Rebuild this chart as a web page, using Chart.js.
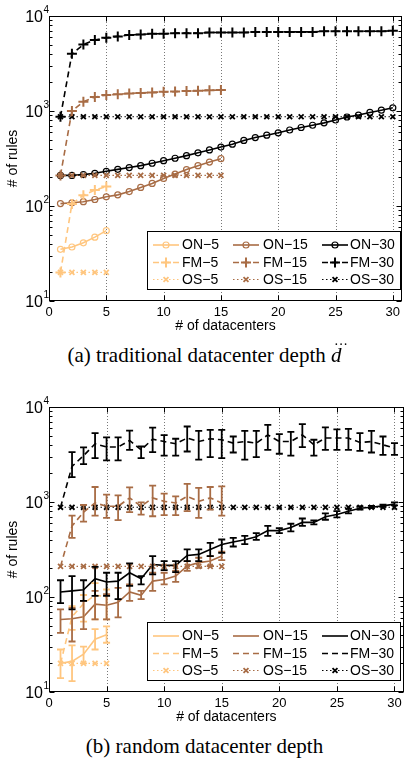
<!DOCTYPE html>
<html>
<head>
<meta charset="utf-8">
<script src="https://cdn.jsdelivr.net/npm/chart.js@4.4.0/dist/chart.umd.min.js"></script>
<style>
body { margin: 0; background: #fff; width: 409px; height: 760px; overflow: hidden; position: relative; }
canvas { position: absolute; left: 0; }
.cap { position: absolute; left: 0; width: 409px; text-align: center; font-family: "Liberation Serif", "Times New Roman", serif; font-size: 21px; line-height: 24px; color: #000; white-space: nowrap; }
.dd { position: relative; display: inline-block; font-style: italic; }
.dots { position: absolute; left: 3px; top: -5px; font-style: normal; font-size: 14px; line-height: 14px; }
</style>
</head>
<body>
<canvas id="chartA" width="409" height="340" style="top:0"></canvas>
<div class="cap" style="top:343px">(a) traditional datacenter depth <span class="dd">d<span class="dots">···</span></span></div>
<canvas id="chartB" width="409" height="340" style="top:391px"></canvas>
<div class="cap" style="top:734px">(b) random datacenter depth</div>

<script>
// x positions (# of datacenters)
const xs5 = [1, 2, 3, 4, 5];
const xs15 = [1, 2, 3, 4, 5, 6, 7, 8, 9, 10, 11, 12, 13, 14, 15];
const xs30 = [1, 2, 3, 4, 5, 6, 7, 8, 9, 10, 11, 12, 13, 14, 15, 16, 17, 18, 19, 20, 21, 22, 23, 24, 25, 26, 27, 28, 29, 30];

const xTicks = [0, 5, 10, 15, 20, 25, 30];
const yTicks = [10, 100, 1000, 10000];
const yTickExp = ['1', '2', '3', '4'];

// (a) traditional datacenter depth
const aON5 = [35, 37, 41, 47, 55];
const aFM5 = [20, 105, 130, 147, 160];
const aOS5 = [20, 20, 20, 20, 20];
const aON15 = [106, 108, 111, 117, 125, 131, 142, 157, 173, 195, 217, 242, 266, 290, 315];
const aFM15 = [210, 1000, 1250, 1400, 1470, 1500, 1530, 1550, 1570, 1590, 1600, 1620, 1630, 1650, 1660];
const aOS15 = [210, 210, 210, 210, 210, 210, 210, 210, 210, 210, 210, 210, 210, 210, 210];
const aON30 = [210, 210, 214, 221, 232, 243, 254, 266, 282, 300, 318, 339, 363, 389, 417,
               447, 490, 525, 556, 589, 631, 670, 708, 750, 804, 865, 906, 966, 1019, 1080];
const aFM30 = [870, 4000, 5000, 5600, 5900, 6100, 6300, 6400, 6500, 6500, 6600, 6600, 6600, 6700, 6700,
               6700, 6700, 6800, 6800, 6800, 6800, 6800, 6800, 6900, 6900, 6900, 6900, 6900, 6900, 7000];
const aOS30 = [870, 870, 870, 870, 870, 870, 870, 870, 870, 870, 870, 870, 870, 870, 870,
               870, 870, 870, 870, 870, 870, 870, 870, 870, 870, 870, 870, 870, 870, 870];

// (b) random datacenter depth (mean, lower and upper error bar)
const bON5 = [20, 21, 25, 36, 40];
const bON5Lo = [14, 13, 20, 28, 33];
const bON5Hi = [28, 31, 30, 46, 49];
const bFM5 = [20, 62, 85, 105, 100];
const bFM5Lo = [20, 45, 55, 58, 58];
const bFM5Hi = [20, 80, 105, 140, 120];
const bOS5 = [20, 20, 20, 20, 20];
const bON15 = [58, 59, 62, 84, 82, 88, 113, 104, 147, 153, 166, 212, 230, 239, 270];
const bON15Lo = [42, 34, 46, 58, 58, 61, 91, 95, 116, 136, 144, 188, 203, 212, 245];
const bON15Hi = [74, 77, 91, 116, 107, 125, 136, 116, 180, 180, 188, 239, 259, 269, 300];
const bFM15 = [210, 560, 780, 978, 902, 902, 1104, 902, 1104, 1016, 978, 1148, 1016, 1104, 978];
const bFM15Lo = [210, 420, 620, 720, 681, 643, 781, 738, 708, 726, 726, 800, 681, 832, 720];
const bFM15Hi = [210, 720, 930, 1439, 1196, 1177, 1426, 993, 1486, 1225, 1148, 1549, 1405, 1439, 1462];
const bOS15 = [210, 210, 210, 210, 210, 210, 210, 210, 210, 210, 210, 210, 210, 210, 210];
const bON30 = [113, 116, 119, 156, 144, 147, 180, 156, 220, 215, 215, 274, 281, 317, 357,
               380, 400, 430, 500, 500, 540, 610, 610, 700, 740, 800, 860, 880, 910, 950];
const bON30Lo = [86, 74, 91, 103, 103, 95, 131, 136, 173, 192, 183, 239, 239, 269, 292,
                 340, 360, 400, 440, 470, 490, 560, 580, 650, 690, 760, 830, 860, 890, 920];
const bON30Hi = [150, 166, 150, 208, 180, 180, 226, 166, 269, 239, 239, 317, 317, 372, 403,
                 420, 440, 470, 560, 530, 590, 670, 640, 760, 800, 850, 900, 910, 940, 990];
const bFM30 = [880, 2370, 3070, 4100, 3790, 3790, 4440, 3540, 4590, 4330, 4100, 4710, 4330, 4630, 4520,
               4170, 4330, 4170, 5090, 4330, 4330, 5090, 4000, 4710, 4710, 4710, 4230, 4330, 4000, 3690];
const bFM30Lo = [880, 1830, 2510, 2900, 2740, 2740, 3540, 2900, 3350, 3070, 3070, 3400, 2790, 2970, 2900,
                 3320, 2790, 2970, 3540, 3220, 3070, 3790, 3070, 3540, 3540, 3540, 3460, 3320, 3140, 3140];
const bFM30Hi = [880, 3350, 3750, 5310, 4780, 4780, 5650, 3840, 6080, 5060, 4630, 6230, 5610, 5750, 5750,
                 4890, 5610, 5610, 6490, 5180, 5480, 6600, 4520, 6100, 5800, 5890, 5310, 5610, 4890, 4170];
const bOS30 = [880, 880, 880, 880, 880, 880, 880, 880, 880, 880, 880, 880, 880, 880, 880,
               880, 880, 880, 880, 880, 880, 880, 880, 880, 880, 880, 880, 880, 880, 880];

const LIGHT = '#ffc67f';
const BROWN = '#a86c45';
const BLACK = '#000000';

Chart.defaults.font.family = '"Liberation Sans", Arial, sans-serif';
Chart.defaults.color = '#000';

// one line series; kind: ON solid, FM dashed, OS dotted
function series(label, xs, ys, color, kind, markers, lo, hi) {
    let ds = {
        label: label,
        data: xs.map((x, i) => ({ x: x, y: ys[i] })),
        borderColor: color,
        backgroundColor: color,
        pointBorderColor: color,
        pointBackgroundColor: 'rgba(0,0,0,0)',
        tension: 0,
        fill: false,
        pointHoverRadius: 0
    };
    if (kind == 'ON') {
        ds.borderDash = [];
        ds.borderWidth = 1.6;
        ds.pointStyle = 'circle';
        ds.pointRadius = markers ? 3 : 0;
        ds.pointBorderWidth = 1.2;
    } else if (kind == 'FM') {
        ds.borderDash = [6, 4];
        ds.borderWidth = 1.6;
        ds.pointStyle = 'cross';
        ds.pointRadius = markers ? 5 : 0;
        ds.pointBorderWidth = 2;
    } else {
        ds.borderDash = [1.5, 2.5];
        ds.borderWidth = 1.2;
        ds.pointStyle = 'crossRot';
        ds.pointRadius = 3.5;
        ds.pointBorderWidth = 1.8;
    }
    if (lo) {
        ds.errLo = lo;
        ds.errHi = hi;
    }
    return ds;
}

// frame, dotted grid, inward ticks, 10^n labels
const axesBox = {
    id: 'axesBox',
    beforeDatasetsDraw(chart) {
        const { ctx, chartArea: a, scales: { x } } = chart;
        ctx.save();
        ctx.strokeStyle = '#555';
        ctx.lineWidth = 0.8;
        ctx.setLineDash([1, 2]);
        xTicks.forEach(v => {
            if (v <= 0) return;
            const px = Math.round(x.getPixelForValue(v)) + 0.5;
            ctx.beginPath();
            ctx.moveTo(px, a.top);
            ctx.lineTo(px, a.bottom);
            ctx.stroke();
        });
        ctx.restore();
    },
    afterDatasetsDraw(chart) {
        const { ctx, chartArea: a, scales: { x, y } } = chart;
        ctx.save();
        ctx.strokeStyle = '#000';
        ctx.lineWidth = 1;
        ctx.setLineDash([]);
        const L = Math.round(a.left) + 0.5, R = Math.round(a.right) - 0.5;
        const T = Math.round(a.top) + 0.5, B = Math.round(a.bottom) - 0.5;
        ctx.strokeRect(L, T, R - L, B - T);
        ctx.beginPath();
        xTicks.forEach(v => {
            const px = Math.round(x.getPixelForValue(v)) + 0.5;
            ctx.moveTo(px, B); ctx.lineTo(px, B - 5);
            ctx.moveTo(px, T); ctx.lineTo(px, T + 5);
        });
        yTicks.forEach(v => {
            const py = Math.round(y.getPixelForValue(v)) + 0.5;
            ctx.moveTo(L, py); ctx.lineTo(L + 5, py);
            ctx.moveTo(R, py); ctx.lineTo(R - 5, py);
        });
        for (let d = 10; d < 10000; d *= 10) {
            for (let m = 2; m <= 9; m++) {
                const py = Math.round(y.getPixelForValue(d * m)) + 0.5;
                ctx.moveTo(L, py); ctx.lineTo(L + 3, py);
                ctx.moveTo(R, py); ctx.lineTo(R - 3, py);
            }
        }
        ctx.stroke();

        ctx.fillStyle = '#000';
        ctx.textBaseline = 'middle';
        yTicks.forEach((v, i) => {
            const py = y.getPixelForValue(v);
            ctx.font = '16px "Liberation Sans", Arial, sans-serif';
            ctx.textAlign = 'right';
            ctx.fillText('10', 43, py + 2);
            ctx.font = '10px "Liberation Sans", Arial, sans-serif';
            ctx.textAlign = 'left';
            ctx.fillText(yTickExp[i], 43.5, py - 6);
        });
        ctx.restore();
    }
};

const errorBars = {
    id: 'errorBars',
    afterDatasetsDraw(chart) {
        const { ctx, scales: { x, y } } = chart;
        chart.data.datasets.forEach(ds => {
            if (!ds.errLo) return;
            ctx.save();
            ctx.strokeStyle = ds.borderColor;
            ctx.lineWidth = 1.8;
            ctx.setLineDash([]);
            ds.data.forEach((p, i) => {
                const lo = ds.errLo[i], hi = ds.errHi[i];
                if (lo == hi) return;
                const px = x.getPixelForValue(p.x);
                const y1 = y.getPixelForValue(lo), y2 = y.getPixelForValue(hi);
                ctx.beginPath();
                ctx.moveTo(px, y1); ctx.lineTo(px, y2);
                ctx.moveTo(px - 3.5, y1); ctx.lineTo(px + 3.5, y1);
                ctx.moveTo(px - 3.5, y2); ctx.lineTo(px + 3.5, y2);
                ctx.stroke();
            });
            ctx.restore();
        });
    }
};

// matlab-like 3x3 legend box in the lower right
const boxLegend = {
    id: 'boxLegend',
    afterDraw(chart) {
        const ctx = chart.ctx;
        const sampleX = [153, 233, 322];
        const textX = [182, 263, 350];
        const rowY = [245, 262.5, 279.5];
        ctx.save();
        ctx.fillStyle = '#fff';
        ctx.fillRect(147.5, 231.5, 253, 58);
        ctx.strokeStyle = '#000';
        ctx.lineWidth = 1;
        ctx.setLineDash([]);
        ctx.strokeRect(147.5, 231.5, 253, 58);

        chart.data.datasets.forEach((ds, i) => {
            const col = Math.floor(i / 3), row = i % 3;
            const x0 = sampleX[col], x1 = x0 + 26, yy = rowY[row];
            ctx.strokeStyle = ds.borderColor;
            ctx.lineWidth = ds.borderWidth;
            ctx.setLineDash(ds.borderDash);
            ctx.beginPath();
            ctx.moveTo(x0, yy);
            ctx.lineTo(x1, yy);
            ctx.stroke();
            if (ds.pointRadius > 0) {
                ctx.setLineDash([]);
                ctx.lineWidth = ds.pointBorderWidth;
                ctx.fillStyle = 'rgba(0,0,0,0)';
                Chart.helpers.drawPoint(ctx, {
                    pointStyle: ds.pointStyle,
                    radius: ds.pointRadius,
                    rotation: 0,
                    borderWidth: ds.pointBorderWidth
                }, (x0 + x1) / 2, yy);
            }
            ctx.fillStyle = '#000';
            ctx.font = '14px "Liberation Sans", Arial, sans-serif';
            ctx.textAlign = 'left';
            ctx.textBaseline = 'middle';
            ctx.fillText(ds.label, textX[col], yy + 0.5);
        });
        ctx.restore();
    }
};

function buildChart(id, datasets) {
    return new Chart(document.getElementById(id), {
        type: 'line',
        data: { datasets: datasets },
        options: {
            responsive: false,
            animation: false,
            devicePixelRatio: 1,
            layout: { padding: { top: 16, right: 1, left: 0, bottom: 0 } },
            plugins: {
                legend: { display: false },
                tooltip: { enabled: false }
            },
            scales: {
                x: {
                    type: 'linear',
                    min: 0,
                    max: 30.8,
                    afterBuildTicks: s => { s.ticks = xTicks.map(v => ({ value: v })); },
                    afterFit: s => { s.height = 39; },
                    grid: { display: false, drawTicks: false },
                    border: { display: false },
                    ticks: { color: '#000', font: { size: 13, lineHeight: 1 }, padding: 5, maxRotation: 0, autoSkip: false },
                    title: { display: true, text: '# of datacenters', color: '#000', font: { size: 14 }, padding: { top: 0, bottom: 5 } }
                },
                y: {
                    type: 'logarithmic',
                    min: 10,
                    max: 10000,
                    afterFit: s => { s.width = 49; },
                    grid: { display: false, drawTicks: false },
                    border: { display: false },
                    ticks: { display: false },
                    title: { display: true, text: '# of rules', color: '#000', font: { size: 14 }, padding: { top: 5, bottom: 0 } }
                }
            }
        },
        plugins: [axesBox, errorBars, boxLegend]
    });
}

const chartA = buildChart('chartA', [
    series('ON\u22125', xs5, aON5, LIGHT, 'ON', true),
    series('FM\u22125', xs5, aFM5, LIGHT, 'FM', true),
    series('OS\u22125', xs5, aOS5, LIGHT, 'OS', true),
    series('ON\u221215', xs15, aON15, BROWN, 'ON', true),
    series('FM\u221215', xs15, aFM15, BROWN, 'FM', true),
    series('OS\u221215', xs15, aOS15, BROWN, 'OS', true),
    series('ON\u221230', xs30, aON30, BLACK, 'ON', true),
    series('FM\u221230', xs30, aFM30, BLACK, 'FM', true),
    series('OS\u221230', xs30, aOS30, BLACK, 'OS', true)
]);

const chartB = buildChart('chartB', [
    series('ON\u22125', xs5, bON5, LIGHT, 'ON', false, bON5Lo, bON5Hi),
    series('FM\u22125', xs5, bFM5, LIGHT, 'FM', false, bFM5Lo, bFM5Hi),
    series('OS\u22125', xs5, bOS5, LIGHT, 'OS', true),
    series('ON\u221215', xs15, bON15, BROWN, 'ON', false, bON15Lo, bON15Hi),
    series('FM\u221215', xs15, bFM15, BROWN, 'FM', false, bFM15Lo, bFM15Hi),
    series('OS\u221215', xs15, bOS15, BROWN, 'OS', true),
    series('ON\u221230', xs30, bON30, BLACK, 'ON', false, bON30Lo, bON30Hi),
    series('FM\u221230', xs30, bFM30, BLACK, 'FM', false, bFM30Lo, bFM30Hi),
    series('OS\u221230', xs30, bOS30, BLACK, 'OS', true)
]);
</script>
</body>
</html>
